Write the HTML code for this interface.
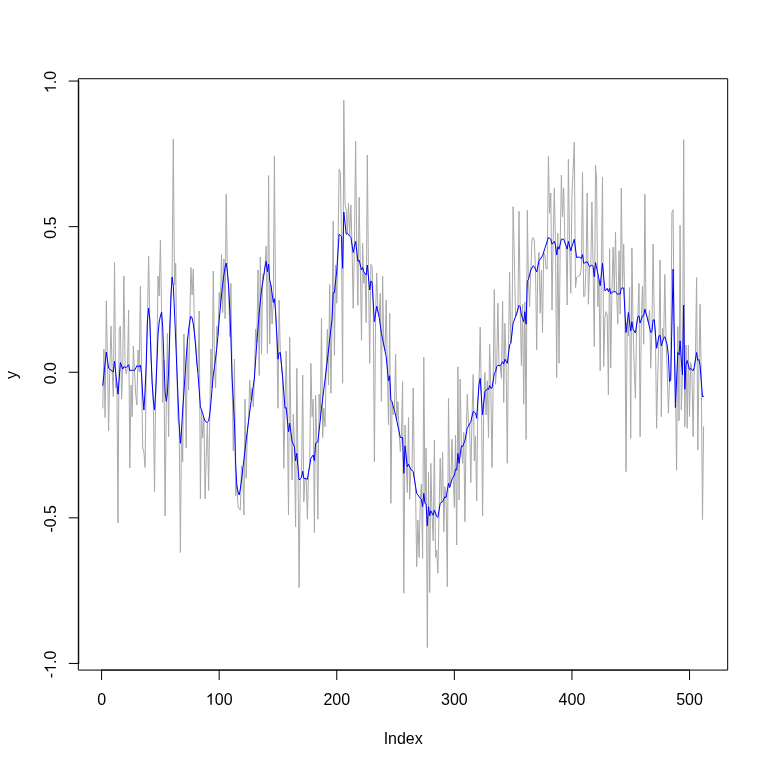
<!DOCTYPE html>
<html><head><meta charset="utf-8"><title>plot</title>
<style>html,body{margin:0;padding:0;background:#fff}svg{display:block;will-change:transform}text{font-family:"Liberation Sans",sans-serif;font-size:16px;fill:#000}</style></head>
<body>
<svg width="768" height="768" viewBox="0 0 768 768">
<rect width="768" height="768" fill="#fff"/>
<polyline fill="none" stroke="#a9a9a9" stroke-width="1" stroke-linejoin="round" stroke-linecap="round" points="102.8,408.0 103.9,349.0 105.1,417.5 106.3,300.8 107.5,360.1 108.6,430.8 109.8,369.2 111.0,326.0 112.2,371.1 113.3,396.7 114.5,262.0 115.7,388.0 116.9,383.2 118.0,523.0 119.2,330.0 120.4,326.0 121.6,399.0 122.7,369.2 123.9,276.0 125.1,367.1 126.3,374.0 127.5,366.1 128.6,310.0 129.8,468.0 131.0,385.0 132.2,416.7 133.3,346.0 134.5,370.5 135.7,394.0 136.9,405.0 138.0,350.0 139.2,372.0 140.4,286.0 141.6,375.0 142.7,448.0 143.9,452.0 145.1,467.5 146.3,362.0 147.4,322.0 148.6,256.0 149.8,320.0 151.0,355.0 152.1,382.0 153.3,400.0 154.5,491.7 155.7,392.0 156.8,365.0 158.0,276.0 159.2,296.0 160.4,240.0 161.6,312.2 162.7,402.5 163.9,360.0 165.1,515.8 166.3,401.3 167.4,333.3 168.6,436.7 169.8,330.0 171.0,296.0 172.1,277.0 173.3,139.2 174.5,285.0 175.7,263.3 176.8,368.0 178.0,420.0 179.2,425.0 180.4,552.5 181.5,430.0 182.7,461.7 183.9,334.0 185.1,375.0 186.2,448.0 187.4,336.7 188.6,390.0 189.8,321.0 190.9,267.5 192.1,295.0 193.3,269.0 194.5,334.0 195.7,342.0 196.8,362.0 198.0,372.0 199.2,311.0 200.4,498.7 201.5,410.0 202.7,438.0 203.9,418.0 205.1,498.7 206.2,457.5 207.4,422.0 208.6,490.5 209.8,414.0 210.9,349.0 212.1,388.0 213.3,271.0 214.5,366.7 215.6,388.0 216.8,326.0 218.0,335.0 219.2,292.5 220.3,308.0 221.5,254.5 222.7,312.5 223.9,259.0 225.1,318.7 226.2,194.2 227.4,272.0 228.6,286.0 229.8,336.7 230.9,283.3 232.1,378.0 233.3,450.8 234.5,359.2 235.6,495.8 236.8,485.0 238.0,506.0 239.2,509.0 240.3,510.0 241.5,465.8 242.7,470.0 243.9,515.0 245.0,399.2 246.2,478.3 247.4,430.9 248.6,421.3 249.7,380.0 250.9,400.0 252.1,388.3 253.3,407.0 254.4,378.0 255.6,329.2 256.8,343.0 258.0,270.0 259.2,375.5 260.3,257.0 261.5,354.2 262.7,274.2 263.9,275.0 265.0,267.0 266.2,246.2 267.4,353.3 268.6,175.5 269.7,344.2 270.9,285.0 272.1,324.2 273.3,302.5 274.4,156.2 275.6,311.7 276.8,335.4 278.0,408.3 279.1,300.0 280.3,352.5 281.5,365.2 282.7,378.0 283.8,468.3 285.0,408.3 286.2,351.2 287.4,419.6 288.5,515.0 289.7,337.2 290.9,432.5 292.1,480.0 293.3,414.2 294.4,446.7 295.6,526.7 296.8,368.3 298.0,466.6 299.1,587.5 300.3,478.8 301.5,477.5 302.7,375.0 303.8,501.7 305.0,478.6 306.2,478.9 307.4,519.2 308.5,472.2 309.7,465.3 310.9,363.3 312.1,416.7 313.2,399.2 314.4,532.5 315.6,395.3 316.8,442.5 317.9,519.2 319.1,394.2 320.3,419.4 321.5,318.3 322.7,437.5 323.8,408.0 325.0,426.7 326.2,370.0 327.4,329.2 328.5,385.0 329.7,284.5 330.9,393.3 332.1,318.3 333.2,221.3 334.4,355.3 335.6,265.0 336.8,303.3 337.9,252.1 339.1,169.2 340.3,172.0 341.5,236.7 342.6,383.3 343.8,100.3 345.0,204.0 346.2,210.0 347.3,233.3 348.5,203.3 349.7,236.1 350.9,205.0 352.0,245.0 353.2,308.3 354.4,246.9 355.6,141.2 356.8,251.3 357.9,305.3 359.1,197.2 360.3,265.0 361.5,340.3 362.6,243.0 363.8,283.3 365.0,273.4 366.2,322.5 367.3,155.0 368.5,277.5 369.7,363.3 370.9,264.2 372.0,266.0 373.2,301.9 374.4,461.7 375.6,313.9 376.7,273.0 377.9,311.4 379.1,316.7 380.3,293.3 381.4,401.3 382.6,276.2 383.8,345.0 385.0,350.9 386.2,300.0 387.3,368.8 388.5,425.0 389.7,313.3 390.9,503.3 392.0,401.7 393.2,415.0 394.4,410.6 395.6,354.2 396.7,420.6 397.9,401.7 399.1,431.9 400.3,451.7 401.4,437.5 402.6,381.7 403.8,593.3 405.0,425.0 406.1,456.2 407.3,492.5 408.5,417.5 409.7,499.2 410.8,469.2 412.0,470.4 413.2,388.0 414.4,478.9 415.5,486.1 416.7,566.7 417.9,520.0 419.1,557.5 420.3,498.3 421.4,484.2 422.6,558.3 423.8,357.2 425.0,503.3 426.1,448.3 427.3,647.5 428.5,472.5 429.7,592.5 430.8,463.3 432.0,513.0 433.2,540.8 434.4,440.0 435.5,557.5 436.7,550.0 437.9,573.3 439.1,510.4 440.2,458.3 441.4,502.5 442.6,452.5 443.8,531.7 444.9,486.7 446.1,497.5 447.3,586.7 448.5,398.3 449.6,487.5 450.8,483.4 452.0,439.2 453.2,477.1 454.4,507.5 455.5,435.0 456.7,545.0 457.9,366.7 459.1,500.0 460.2,379.2 461.4,445.8 462.6,463.3 463.8,432.5 464.9,521.7 466.1,434.6 467.3,394.2 468.5,426.1 469.6,423.9 470.8,482.5 472.0,416.5 473.2,374.5 474.3,460.8 475.5,436.3 476.7,500.8 477.9,401.2 479.0,384.2 480.2,327.2 481.4,396.5 482.6,515.8 483.8,403.2 484.9,372.5 486.1,415.0 487.3,380.8 488.5,437.5 489.6,344.2 490.8,388.3 492.0,467.5 493.2,380.6 494.3,289.5 495.5,384.2 496.7,366.7 497.9,303.3 499.0,365.6 500.2,365.8 501.4,378.3 502.6,301.3 503.7,402.5 504.9,323.3 506.1,361.2 507.3,463.3 508.4,354.1 509.6,272.0 510.8,343.3 512.0,333.3 513.1,206.7 514.3,255.0 515.5,316.6 516.7,315.0 517.9,309.3 519.0,211.2 520.2,306.7 521.4,365.5 522.6,304.2 523.7,404.2 524.9,302.0 526.1,439.5 527.3,210.3 528.4,279.7 529.6,306.7 530.8,270.0 532.0,240.0 533.1,237.5 534.3,240.0 535.5,269.4 536.7,350.0 537.8,266.4 539.0,252.5 540.2,313.3 541.4,270.0 542.5,332.5 543.7,252.1 544.9,255.0 546.1,269.0 547.2,269.0 548.4,156.2 549.6,213.3 550.8,193.0 552.0,310.0 553.1,242.8 554.3,188.3 555.5,245.0 556.7,377.5 557.8,233.3 559.0,363.3 560.2,244.2 561.4,175.0 562.5,216.7 563.7,188.3 564.9,242.5 566.1,245.8 567.2,305.0 568.4,159.2 569.6,246.1 570.8,293.3 571.9,197.0 573.1,170.0 574.3,142.0 575.5,287.5 576.6,277.5 577.8,276.5 579.0,275.5 580.2,275.0 581.4,268.0 582.5,172.0 583.7,296.7 584.9,296.0 586.1,262.2 587.2,193.0 588.4,304.2 589.6,266.7 590.8,265.9 591.9,202.0 593.1,266.7 594.3,346.7 595.5,165.0 596.6,180.0 597.8,306.7 599.0,279.6 600.2,370.8 601.3,274.6 602.5,177.0 603.7,366.7 604.9,318.0 606.0,311.7 607.2,315.0 608.4,394.7 609.6,248.7 610.7,368.0 611.9,292.7 613.1,247.2 614.3,291.7 615.5,232.0 616.6,293.2 617.8,324.2 619.0,250.8 620.2,314.2 621.3,188.0 622.5,288.0 623.7,244.2 624.9,310.2 626.0,471.7 627.2,322.5 628.4,336.0 629.6,287.5 630.7,438.3 631.9,248.0 633.1,329.2 634.3,370.0 635.4,398.3 636.6,324.9 637.8,316.7 639.0,283.3 640.1,436.7 641.3,319.4 642.5,286.3 643.7,344.2 644.9,194.2 646.0,313.4 647.2,317.5 648.4,322.5 649.6,310.0 650.7,368.3 651.9,331.7 653.1,244.2 654.3,319.7 655.4,334.0 656.6,428.3 657.8,375.0 659.0,335.8 660.1,260.0 661.3,416.7 662.5,328.3 663.7,338.3 664.8,274.5 666.0,340.9 667.2,370.0 668.4,413.3 669.5,381.7 670.7,375.0 671.9,212.5 673.1,209.7 674.2,338.4 675.4,380.0 676.6,470.3 677.8,326.7 679.0,420.8 680.1,225.3 681.3,410.0 682.5,375.0 683.7,139.7 684.8,426.7 686.0,345.0 687.2,428.3 688.4,345.0 689.5,416.7 690.7,362.5 691.9,369.6 693.1,436.7 694.2,372.0 695.4,360.0 696.6,277.5 697.8,450.0 698.9,372.0 700.1,304.2 701.3,381.2 702.5,519.5 703.6,426.7"/>
<polyline fill="none" stroke="#0000ff" stroke-width="1" stroke-linejoin="round" stroke-linecap="round" points="102.8,385.3 106.3,352.0 108.6,368.3 113.3,372.0 114.5,361.3 118.0,394.2 120.4,362.5 122.7,369.2 123.9,366.7 126.3,367.5 128.6,364.7 129.8,370.8 132.2,370.0 134.5,370.5 136.9,365.8 139.2,366.7 140.4,365.0 141.6,375.0 142.7,395.0 143.9,410.0 145.1,390.0 146.3,362.0 147.4,322.0 148.6,308.0 149.8,320.0 151.0,355.0 152.1,382.0 153.3,400.0 154.5,409.7 155.7,392.0 156.8,365.0 158.0,335.0 159.2,322.0 160.4,316.0 161.6,312.2 162.7,327.0 163.9,360.0 165.1,392.0 166.3,401.3 167.4,393.0 168.6,372.0 169.8,330.0 171.0,295.0 172.1,277.0 173.3,286.0 174.5,312.0 175.7,340.0 176.8,368.0 178.0,397.0 179.2,425.0 180.4,443.3 181.5,430.0 182.7,410.0 183.9,392.0 185.1,375.0 186.2,358.0 187.4,342.0 188.6,330.0 189.8,321.0 190.9,316.3 192.1,318.0 193.3,324.0 194.5,334.0 195.7,347.0 196.8,362.0 198.0,374.0 199.2,390.0 200.4,406.7 201.5,410.0 202.7,413.3 203.9,418.0 205.1,421.0 206.2,422.0 207.4,422.0 208.6,421.0 209.8,414.0 210.9,403.0 212.1,388.0 213.3,375.0 214.5,366.7 215.6,358.0 216.8,348.0 218.0,335.0 219.2,320.0 220.3,308.0 221.5,295.0 222.7,284.0 223.9,275.0 225.1,267.0 226.2,263.0 227.4,272.0 228.6,286.0 229.8,310.0 230.9,338.0 232.1,378.0 234.5,423.3 235.6,462.0 236.8,485.0 238.0,492.0 239.2,495.0 240.3,489.0 241.5,480.0 242.7,470.0 245.0,450.0 249.7,411.7 254.4,378.0 256.8,343.0 259.2,313.0 261.5,290.0 263.9,275.0 265.0,267.0 266.2,261.3 267.4,271.7 268.6,264.2 269.7,280.0 270.9,285.0 273.3,302.5 274.4,298.7 275.6,311.7 278.0,359.2 279.1,353.0 280.3,352.5 282.7,378.0 285.0,408.3 286.2,407.5 288.5,431.7 289.7,423.3 292.1,441.7 294.4,446.7 295.6,460.8 296.8,453.3 299.1,480.0 301.5,477.5 302.7,471.3 303.8,478.3 307.4,479.2 310.9,458.3 313.2,455.0 314.4,460.8 315.6,443.3 317.9,441.7 321.5,408.3 325.0,380.0 327.4,360.0 332.1,318.3 333.2,292.5 334.4,292.5 336.8,270.0 339.1,234.2 341.5,236.7 342.6,268.3 343.8,212.0 346.2,234.2 347.3,233.3 350.9,237.5 353.2,252.5 355.6,241.3 357.9,261.3 359.1,260.0 361.5,270.0 362.6,267.5 363.8,271.7 366.2,275.0 367.3,265.0 369.7,290.0 370.9,281.0 372.0,282.0 374.4,321.7 376.7,306.2 379.1,316.7 381.4,333.3 386.2,356.7 388.5,380.8 389.7,375.8 390.9,400.0 392.0,401.7 395.6,415.0 400.3,437.5 402.6,437.5 403.8,473.3 405.0,445.8 407.3,466.7 408.5,464.2 410.8,469.2 413.2,471.7 416.7,493.3 420.3,498.3 421.4,499.2 422.6,506.7 423.8,493.3 425.0,503.3 426.1,504.2 427.3,525.8 428.5,506.7 429.7,515.8 430.8,510.8 433.2,515.3 434.4,510.0 436.7,516.3 437.9,517.5 440.2,503.3 442.6,501.7 444.9,496.7 446.1,497.5 448.5,483.3 449.6,487.5 452.0,479.2 454.4,475.0 455.5,469.2 456.7,470.0 457.9,453.3 459.1,463.3 461.4,445.8 462.6,446.7 464.9,440.8 467.3,428.3 470.8,421.7 473.2,411.3 475.5,413.0 476.7,418.3 479.0,384.2 480.2,378.3 482.6,414.7 484.9,391.7 487.3,388.7 488.5,389.5 489.6,385.5 490.8,388.3 492.0,388.0 494.3,373.3 495.5,371.7 496.7,366.7 497.9,365.3 500.2,365.8 502.6,361.7 503.7,364.2 504.9,359.2 507.3,363.3 509.6,345.0 510.8,343.3 513.1,323.3 516.7,313.3 519.0,305.3 520.2,306.7 521.4,315.0 523.7,321.7 524.9,311.7 526.1,324.2 527.3,280.8 528.4,279.7 530.8,270.0 533.1,265.8 534.3,266.7 536.7,272.0 539.0,260.8 542.5,255.8 544.9,248.3 548.4,237.5 550.8,239.2 552.0,244.2 554.3,241.3 555.5,245.0 556.7,255.0 557.8,246.7 559.0,249.2 561.4,239.2 563.7,239.2 566.1,245.8 567.2,249.2 568.4,241.3 570.8,250.8 571.9,246.7 574.3,239.2 576.6,257.5 579.0,257.0 581.4,258.3 582.5,254.5 583.7,263.3 587.2,261.7 589.6,266.7 591.9,265.0 593.1,266.7 594.3,276.7 595.5,262.5 597.8,273.3 600.2,285.8 602.5,263.3 604.9,290.8 606.0,290.0 607.2,288.3 608.4,291.7 609.6,288.3 610.7,293.7 613.1,291.7 615.5,291.7 617.8,294.7 619.0,293.3 620.2,294.2 621.3,288.0 623.7,288.0 626.0,332.5 628.4,312.5 630.7,330.8 631.9,321.7 633.1,329.2 635.4,333.0 637.8,316.7 639.0,315.8 640.1,323.0 642.5,315.8 643.7,315.8 644.9,309.2 647.2,317.5 650.7,332.5 651.9,331.7 653.1,320.0 654.3,319.7 656.6,348.3 659.0,335.8 660.1,335.3 661.3,345.8 663.7,338.3 664.8,336.7 667.2,345.0 668.4,356.0 669.5,381.7 670.7,380.0 673.1,269.2 675.4,407.5 677.8,352.5 679.0,355.0 680.1,340.8 681.3,360.0 682.5,375.0 683.7,305.0 684.8,389.2 686.0,364.2 687.2,360.5 689.5,369.7 690.7,368.3 693.1,370.8 694.2,367.5 696.6,352.5 697.8,360.5 698.9,359.5 700.1,365.8 702.5,396.7 703.6,396.3"/>
<g fill="none" stroke="#000" stroke-width="1" stroke-linecap="round" stroke-linejoin="round">
<rect x="78.72" y="78.72" width="648.96" height="591.36"/>
<path d="M101.58 670.08H689.54"/>
<path d="M101.58 670.08V679.68"/>
<path d="M219.17 670.08V679.68"/>
<path d="M336.76 670.08V679.68"/>
<path d="M454.35 670.08V679.68"/>
<path d="M571.94 670.08V679.68"/>
<path d="M689.54 670.08V679.68"/>
<path d="M78.72 663.45V81.05"/>
<path d="M78.72 663.45H69.12"/>
<path d="M78.72 517.85H69.12"/>
<path d="M78.72 372.25H69.12"/>
<path d="M78.72 226.65H69.12"/>
<path d="M78.72 81.05H69.12"/>
</g>
<g transform="translate(101.58 704.7)"><text x="-4.45" y="0">0</text></g>
<g transform="translate(219.17 704.7)"><path transform="translate(-13.35 0) scale(0.0078125 -0.0078125)" d="M763 0H583V1147Q518 1085 412.5 1023Q307 961 223 930V1104Q374 1175 487 1276Q600 1377 647 1472H763Z"/><text x="-4.45" y="0">00</text></g>
<g transform="translate(336.76 704.7)"><text x="-13.35" y="0">200</text></g>
<g transform="translate(454.35 704.7)"><text x="-13.35" y="0">300</text></g>
<g transform="translate(571.94 704.7)"><text x="-13.35" y="0">400</text></g>
<g transform="translate(689.54 704.7)"><text x="-13.35" y="0">500</text></g>
<g transform="translate(55.9 664.45) rotate(-90)"><text x="-13.78" y="0">-</text><path transform="translate(-8.46 0) scale(0.0078125 -0.0078125)" d="M763 0H583V1147Q518 1085 412.5 1023Q307 961 223 930V1104Q374 1175 487 1276Q600 1377 647 1472H763Z"/><text x="0.44" y="0">.0</text></g>
<g transform="translate(55.9 518.85) rotate(-90)"><text x="-13.78" y="0">-0.5</text></g>
<g transform="translate(55.9 373.25) rotate(-90)"><text x="-11.12" y="0">0.0</text></g>
<g transform="translate(55.9 227.65) rotate(-90)"><text x="-11.12" y="0">0.5</text></g>
<g transform="translate(55.9 82.05) rotate(-90)"><path transform="translate(-11.12 0) scale(0.0078125 -0.0078125)" d="M763 0H583V1147Q518 1085 412.5 1023Q307 961 223 930V1104Q374 1175 487 1276Q600 1377 647 1472H763Z"/><text x="-2.22" y="0">.0</text></g>
<text x="403.2" y="743.8" text-anchor="middle">Index</text>
<text transform="translate(16.6 374.9) rotate(-90)" text-anchor="middle">y</text>
</svg>
</body></html>
